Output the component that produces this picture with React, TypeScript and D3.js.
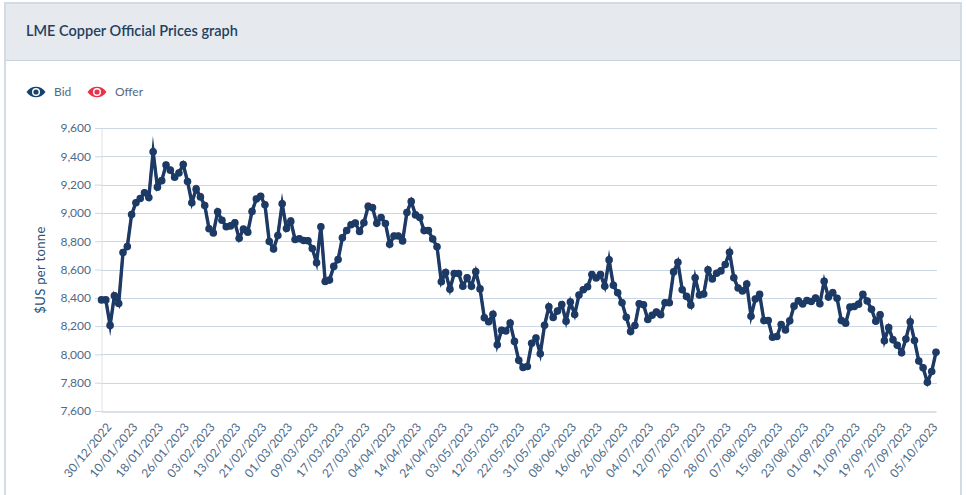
// App.tsx - LME Copper Official Prices graph
import React, { useEffect, useRef } from 'react';
import * as d3 from 'd3';

const tickLabels = [
  '30/12/2022', '10/01/2023', '18/01/2023', '26/01/2023', '03/02/2023', '13/02/2023', '21/02/2023',
  '01/03/2023', '09/03/2023', '17/03/2023', '27/03/2023', '04/04/2023', '14/04/2023', '24/04/2023',
  '03/05/2023', '12/05/2023', '22/05/2023', '31/05/2023', '08/06/2023', '16/06/2023', '26/06/2023',
  '04/07/2023', '12/07/2023', '20/07/2023', '28/07/2023', '07/08/2023', '15/08/2023', '23/08/2023',
  '01/09/2023', '11/09/2023', '19/09/2023', '27/09/2023', '05/10/2023',
];

const yTicks = [7600, 7800, 8000, 8200, 8400, 8600, 8800, 9000, 9200, 9400, 9600];

const bid = [
  8385, 8385, 8205, 8415, 8360, 8720, 8762, 8988, 9072, 9102, 9142, 9108, 9432, 9182, 9228, 9338,
  9302, 9252, 9282, 9342, 9222, 9072, 9168, 9112, 9052, 8888, 8858, 9008, 8948, 8902, 8908, 8930,
  8820, 8885, 8864, 9010, 9098, 9118, 9058, 8798, 8745, 8840, 9064, 8890, 8940, 8812, 8817, 8805,
  8803, 8748, 8648, 8902, 8515, 8525, 8622, 8670, 8824, 8876, 8916, 8928, 8869, 8930, 9045, 9036,
  8926, 8967, 8925, 8778, 8837, 8837, 8802, 9003, 9081, 8986, 8967, 8875, 8875, 8816, 8761, 8513,
  8579, 8461, 8572, 8572, 8482, 8541, 8482, 8584, 8463, 8259, 8231, 8283, 8068, 8170, 8165, 8222,
  8092, 7958, 7908, 7915, 8078, 8116, 8005, 8206, 8336, 8261, 8306, 8353, 8235, 8370, 8282, 8419,
  8457, 8478, 8564, 8540, 8564, 8481, 8668, 8488, 8436, 8365, 8263, 8161, 8204, 8358, 8351, 8247,
  8277, 8299, 8280, 8365, 8365, 8583, 8651, 8457, 8410, 8348, 8542, 8419, 8426, 8597, 8533, 8573,
  8590, 8635, 8722, 8542, 8469, 8448, 8497, 8270, 8391, 8424, 8239, 8239, 8121, 8126, 8211, 8173,
  8237, 8341, 8378, 8356, 8381, 8374, 8398, 8358, 8517, 8405, 8436, 8396, 8239, 8220, 8334, 8338,
  8355, 8424, 8377, 8319, 8234, 8279, 8096, 8189, 8103, 8065, 8012, 8108, 8231, 8098, 7953, 7905,
  7803, 7879, 8015,
];

const offer = [
  8387, 8387, 8207, 8418, 8362, 8722, 8765, 8991, 9074, 9104, 9145, 9110, 9434, 9184, 9231, 9341,
  9304, 9254, 9285, 9344, 9224, 9074, 9176, 9120, 9056, 8890, 8860, 9010, 8951, 8904, 8910, 8932,
  8822, 8887, 8866, 9016, 9100, 9120, 9060, 8800, 8747, 8842, 9066, 8892, 8948, 8814, 8819, 8807,
  8805, 8750, 8650, 8904, 8522, 8528, 8624, 8672, 8826, 8878, 8918, 8930, 8871, 8932, 9052, 9042,
  8928, 8969, 8927, 8780, 8839, 8839, 8804, 9005, 9087, 8988, 8969, 8877, 8877, 8818, 8763, 8515,
  8581, 8463, 8574, 8574, 8484, 8543, 8484, 8589, 8465, 8263, 8233, 8285, 8070, 8172, 8167, 8224,
  8094, 7960, 7910, 7917, 8080, 8118, 8007, 8208, 8338, 8263, 8308, 8355, 8237, 8372, 8284, 8421,
  8459, 8480, 8567, 8542, 8569, 8483, 8670, 8490, 8438, 8367, 8265, 8163, 8206, 8360, 8353, 8249,
  8279, 8301, 8282, 8367, 8367, 8585, 8654, 8459, 8412, 8350, 8544, 8421, 8428, 8599, 8535, 8575,
  8592, 8637, 8724, 8544, 8471, 8450, 8499, 8272, 8393, 8426, 8241, 8241, 8123, 8128, 8213, 8175,
  8239, 8343, 8380, 8358, 8383, 8376, 8400, 8360, 8519, 8409, 8442, 8398, 8241, 8222, 8336, 8340,
  8357, 8426, 8379, 8321, 8236, 8284, 8098, 8191, 8108, 8067, 8014, 8110, 8233, 8100, 7955, 7907,
  7805, 7881, 8017,
];

const BID_COLOR = '#1b3b66';
const BID_ICON = '#17426b';
const OFFER_COLOR = '#ea3349';
const GRID = '#cbd8e3';
const TEXT = '#4d6a88';
const FONT = 'Lato, "Noto Sans", sans-serif';
const TICK_EVERY = 6;

const eyePath = 'M-9.5,0 C-5,-7 5,-7 9.5,0 C5,7 -5,7 -9.5,0 Z';

const App = () => {
  const svgRef = useRef<SVGSVGElement>(null);

  useEffect(() => {
    const svg = d3.select(svgRef.current);
    svg.selectAll('*').remove();

    // card + header
    svg.append('rect').attr('x', 5).attr('y', 3).attr('width', 956).attr('height', 500)
      .attr('fill', '#fff').attr('stroke', '#d3dce4').attr('stroke-width', 2);
    svg.append('rect').attr('x', 6).attr('y', 4).attr('width', 954).attr('height', 56).attr('fill', '#e6eaef');
    svg.append('line').attr('x1', 6).attr('x2', 960).attr('y1', 60.5).attr('y2', 60.5)
      .attr('stroke', '#c6d2de').attr('stroke-width', 1);
    svg.append('text').attr('x', 26).attr('y', 36).text('LME Copper Official Prices graph')
      .attr('font-family', FONT).attr('font-size', 14.5).attr('font-weight', 600).attr('fill', '#24405f');

    // legend
    const legend = [
      { name: 'Bid', color: BID_ICON, icon: 36, label: 54 },
      { name: 'Offer', color: OFFER_COLOR, icon: 97, label: 115 },
    ];
    legend.forEach((d) => {
      const g = svg.append('g').attr('transform', `translate(${d.icon},92)`);
      g.append('path').attr('d', eyePath).attr('fill', d.color);
      g.append('circle').attr('r', 4).attr('fill', '#fff');
      g.append('circle').attr('r', 2.6).attr('fill', d.color);
      svg.append('text').attr('x', d.label).attr('y', 96).text(d.name)
        .attr('font-family', FONT).attr('font-size', 12).attr('fill', '#55697f');
    });

    const x = d3.scaleLinear().domain([0, bid.length - 1]).range([101.5, 936]);
    const y = d3.scaleLinear().domain([7600, 9600]).range([411, 128]);

    // y axis + grid
    const yAxis = svg.append('g').attr('transform', 'translate(101.5,0)')
      .call(d3.axisLeft(y).tickValues(yTicks).tickSize(6.5).tickPadding(4).tickFormat(d3.format(',')));
    yAxis.select('.domain').attr('stroke', '#dbe3ea');
    yAxis.selectAll('.tick line').attr('stroke', GRID);
    yAxis.selectAll('text').attr('font-family', FONT).attr('font-size', 12).attr('fill', TEXT);
    svg.append('g').selectAll('line').data(yTicks.slice(1)).enter().append('line')
      .attr('x1', 101.5).attr('x2', 937)
      .attr('y1', (d) => Math.round(y(d)) + 0.5).attr('y2', (d) => Math.round(y(d)) + 0.5)
      .attr('stroke', GRID);

    // x axis, one label every six fixings
    const xAxis = svg.append('g').attr('transform', 'translate(0,411.5)')
      .call(
        d3.axisBottom(x)
          .tickValues(tickLabels.map((_, i) => i * TICK_EVERY))
          .tickSize(0)
          .tickFormat((_, i) => tickLabels[i])
      );
    xAxis.select('.domain').attr('stroke', '#b4c0cc');
    xAxis.selectAll('text')
      .attr('font-family', FONT).attr('font-size', 12).attr('fill', TEXT)
      .attr('text-anchor', 'end')
      .attr('dy', null)
      .attr('transform', 'translate(8,14) rotate(-50)');

    svg.append('text')
      .attr('transform', 'translate(45,270) rotate(-90)')
      .attr('text-anchor', 'middle').text('$US per tonne')
      .attr('font-family', FONT).attr('font-size', 13).attr('letter-spacing', 0.35).attr('fill', '#2c5278');

    // series, offer sits just under bid
    const line = d3.line<number>().x((_, i) => x(i)).y((d) => y(d));
    svg.append('path').datum(offer).attr('d', line)
      .attr('fill', 'none').attr('stroke', OFFER_COLOR).attr('stroke-width', 2.5)
      .attr('stroke-linejoin', 'round');
    svg.append('g').selectAll('circle').data(offer).enter().append('circle')
      .attr('cx', (_, i) => x(i)).attr('cy', (d) => y(d)).attr('r', 3.2).attr('fill', OFFER_COLOR);
    svg.append('path').datum(bid).attr('d', line)
      .attr('fill', 'none').attr('stroke', BID_COLOR).attr('stroke-width', 3.4)
      .attr('stroke-linejoin', 'miter').attr('stroke-miterlimit', 10);
    svg.append('g').selectAll('circle').data(bid).enter().append('circle')
      .attr('cx', (_, i) => x(i)).attr('cy', (d) => y(d)).attr('r', 3.8).attr('fill', BID_COLOR);
  }, []);

  return <svg ref={svgRef} width={966} height={495} style={{ position: 'absolute', left: 0, top: 0, display: 'block' }} />;
};

export default App;
